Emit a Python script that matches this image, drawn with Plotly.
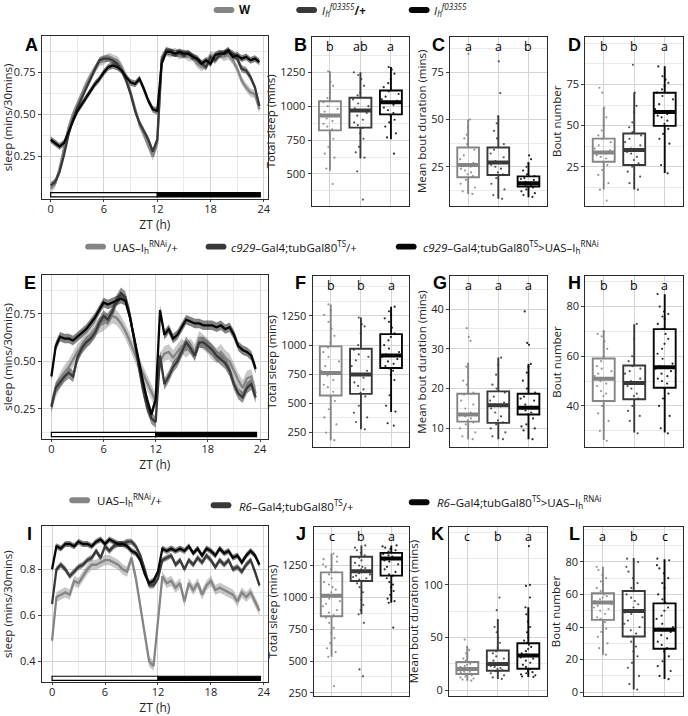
import plotly.graph_objects as go

W, H = 688, 716

# ---------------- data ----------------
ZT = [0.0, 0.5, 1.0, 1.5, 2.0, 2.5, 3.0, 3.5, 4.0, 4.5, 5.0, 5.5, 6.0, 6.5, 7.0, 7.5,
      8.0, 8.5, 9.0, 9.5, 10.0, 10.5, 11.0, 11.5, 12.0, 12.5, 13.0, 13.5, 14.0, 14.5, 15.0, 15.5,
      16.0, 16.5, 17.0, 17.5, 18.0, 18.5, 19.0, 19.5, 20.0, 20.5, 21.0, 21.5, 22.0, 22.5, 23.0, 23.5]
LD_LIGHT = [0, 12]
LD_DARK = [12, 23.6]

# Panel A
A_w = [0.06, 0.09, 0.18, 0.30, 0.42, 0.50, 0.56, 0.63, 0.68, 0.73, 0.77, 0.81, 0.82, 0.84, 0.83, 0.82,
       0.78, 0.72, 0.63, 0.54, 0.44, 0.38, 0.32, 0.25, 0.33, 0.84, 0.87, 0.86, 0.87, 0.85, 0.86, 0.84,
       0.84, 0.80, 0.78, 0.80, 0.85, 0.84, 0.86, 0.84, 0.85, 0.82, 0.77, 0.70, 0.66, 0.63, 0.62, 0.53]
A_het = [0.08, 0.10, 0.16, 0.26, 0.38, 0.47, 0.54, 0.60, 0.66, 0.71, 0.77, 0.82, 0.83, 0.83, 0.82, 0.80,
         0.76, 0.70, 0.62, 0.52, 0.45, 0.40, 0.35, 0.28, 0.35, 0.82, 0.88, 0.87, 0.86, 0.86, 0.85, 0.86,
         0.84, 0.82, 0.80, 0.78, 0.84, 0.82, 0.85, 0.86, 0.87, 0.86, 0.83, 0.77, 0.76, 0.72, 0.66, 0.55]
A_ih = [0.35, 0.33, 0.31, 0.33, 0.40, 0.46, 0.52, 0.56, 0.60, 0.64, 0.68, 0.71, 0.75, 0.78, 0.79, 0.78,
        0.76, 0.72, 0.69, 0.68, 0.71, 0.65, 0.58, 0.53, 0.52, 0.80, 0.87, 0.87, 0.86, 0.87, 0.86, 0.86,
        0.84, 0.83, 0.80, 0.82, 0.80, 0.85, 0.86, 0.86, 0.88, 0.84, 0.85, 0.83, 0.84, 0.82, 0.83, 0.81]
A_sem = [0.025, 0.02, 0.02]

# Panel E
E_uas = [0.27, 0.35, 0.40, 0.44, 0.47, 0.51, 0.55, 0.58, 0.61, 0.64, 0.67, 0.69, 0.70, 0.72, 0.74, 0.73,
         0.70, 0.66, 0.61, 0.55, 0.49, 0.44, 0.39, 0.34, 0.29, 0.50, 0.54, 0.55, 0.52, 0.55, 0.58, 0.56,
         0.58, 0.55, 0.62, 0.60, 0.58, 0.55, 0.53, 0.55, 0.52, 0.50, 0.45, 0.40, 0.36, 0.41, 0.42, 0.33]
E_het = [0.26, 0.36, 0.39, 0.42, 0.44, 0.42, 0.52, 0.57, 0.60, 0.62, 0.65, 0.70, 0.74, 0.72, 0.76, 0.82,
         0.86, 0.84, 0.75, 0.62, 0.48, 0.36, 0.26, 0.20, 0.18, 0.53, 0.38, 0.42, 0.47, 0.50, 0.55, 0.60,
         0.57, 0.53, 0.60, 0.60, 0.58, 0.56, 0.53, 0.51, 0.49, 0.45, 0.38, 0.33, 0.31, 0.36, 0.38, 0.31]
E_exp = [0.42, 0.58, 0.63, 0.62, 0.62, 0.61, 0.63, 0.65, 0.67, 0.70, 0.73, 0.77, 0.81, 0.80, 0.81, 0.82,
         0.83, 0.82, 0.74, 0.63, 0.51, 0.40, 0.30, 0.22, 0.30, 0.77, 0.64, 0.67, 0.62, 0.64, 0.68, 0.72,
         0.71, 0.70, 0.70, 0.69, 0.69, 0.69, 0.68, 0.69, 0.67, 0.68, 0.64, 0.58, 0.56, 0.55, 0.53, 0.46]
E_sem = [0.04, 0.03, 0.025]

# Panel I
I_uas = [0.49, 0.68, 0.69, 0.70, 0.69, 0.75, 0.74, 0.77, 0.80, 0.82, 0.82, 0.83, 0.84, 0.84, 0.83, 0.82,
         0.80, 0.79, 0.85, 0.76, 0.64, 0.52, 0.40, 0.38, 0.56, 0.77, 0.74, 0.75, 0.72, 0.74, 0.66, 0.74,
         0.71, 0.74, 0.69, 0.73, 0.75, 0.71, 0.72, 0.71, 0.70, 0.69, 0.66, 0.70, 0.68, 0.70, 0.66, 0.62]
I_het = [0.65, 0.80, 0.82, 0.80, 0.77, 0.79, 0.81, 0.82, 0.84, 0.85, 0.88, 0.85, 0.90, 0.88, 0.90, 0.91,
         0.91, 0.92, 0.92, 0.90, 0.86, 0.80, 0.73, 0.73, 0.76, 0.84, 0.85, 0.86, 0.82, 0.84, 0.80, 0.84,
         0.82, 0.85, 0.83, 0.86, 0.84, 0.81, 0.84, 0.82, 0.84, 0.80, 0.81, 0.79, 0.82, 0.84, 0.79, 0.73]
I_exp = [0.80, 0.90, 0.89, 0.91, 0.91, 0.90, 0.92, 0.91, 0.91, 0.90, 0.92, 0.93, 0.91, 0.93, 0.92, 0.91,
         0.91, 0.90, 0.88, 0.87, 0.84, 0.78, 0.74, 0.75, 0.79, 0.89, 0.88, 0.89, 0.88, 0.89, 0.88, 0.90,
         0.87, 0.89, 0.86, 0.89, 0.88, 0.86, 0.89, 0.87, 0.88, 0.85, 0.86, 0.83, 0.86, 0.88, 0.86, 0.82]
I_sem = [0.022, 0.013, 0.013]

# Box panels: [group1, group2, group3]
B_q1 = [822, 842, 940]; B_med = [932, 969, 1030]; B_q3 = [1037, 1062, 1116]
B_lo = [524, 615, 756]; B_hi = [1257, 1250, 1289]
B_pts = [[1257, 1180, 1150, 1100, 1060, 1030, 1000, 980, 960, 940, 925, 910, 890, 870, 850, 830, 800, 760, 700, 650, 620, 540, 426],
         [1250, 1230, 1200, 1150, 1100, 1080, 1050, 1020, 1000, 985, 970, 950, 930, 900, 880, 860, 840, 800, 760, 700, 660, 620, 520, 311],
         [1289, 1270, 1240, 1200, 1170, 1140, 1110, 1090, 1070, 1050, 1040, 1030, 1010, 990, 970, 950, 930, 900, 880, 850, 800, 770, 650]]
B_sig = ["b", "ab", "a"]

C_q1 = [19.4, 20.6, 14.5]; C_med = [25.9, 27.3, 16.2]; C_q3 = [35.2, 35.2, 19.9]
C_lo = [10.6, 8.0, 8.9]; C_hi = [50.0, 51.8, 27.0]
C_pts = [[84.8, 50, 46, 42, 40, 37, 34, 31, 29, 27, 26, 25, 24, 23, 22, 21, 20, 18, 16, 14, 12, 10.6],
         [80.8, 64, 51.8, 48, 44, 40, 37, 34, 32, 30, 28, 27, 26, 25, 24, 22, 21, 19, 16, 13, 10, 8],
         [31, 29, 27, 25, 23, 21, 20, 19, 18.5, 18, 17, 16.5, 16, 15.5, 15, 14.5, 14, 13, 12, 11, 10, 9]]
C_sig = ["a", "a", "b"]

D_q1 = [28.0, 26.0, 49.8]; D_med = [33.7, 35.1, 58.3]; D_q3 = [42.1, 45.2, 70.0]
D_lo = [11.1, 11.1, 21.2]; D_hi = [60.9, 70.0, 86.1]
D_pts = [[73, 70, 61, 55, 50, 47, 44, 42, 40, 38, 36, 35, 34, 33, 32, 31, 30, 28, 26, 23, 20, 15, 11, 4.4],
         [87, 70, 62, 58, 52, 49, 46, 44, 42, 40, 38, 36, 35, 34, 33, 31, 29, 27, 25, 22, 19, 15, 11],
         [86, 80, 78, 76, 74, 72, 70, 68, 66, 63, 60, 59, 58, 57, 56, 55, 53, 51, 48, 45, 42, 39, 26, 21]]
D_sig = ["b", "b", "a"]

F_q1 = [568, 582, 804]; F_med = [761, 747, 912]; F_q3 = [989, 969, 1094]
F_lo = [185, 278, 426]; F_hi = [1349, 1236, 1330]
F_pts = [[1349, 1300, 1260, 1200, 1140, 1080, 1020, 980, 940, 900, 860, 820, 780, 760, 740, 700, 660, 640, 600, 560, 520, 450, 380, 320, 250, 185],
         [1236, 1180, 1160, 1100, 1000, 960, 920, 900, 870, 820, 780, 750, 720, 680, 650, 620, 590, 560, 480, 420, 380, 340, 278],
         [1330, 1290, 1260, 1230, 1200, 1150, 1100, 1070, 1040, 1000, 970, 940, 920, 900, 880, 860, 840, 820, 800, 780, 740, 700, 570, 480, 430, 330, 310]]
F_sig = ["b", "b", "a"]

G_q1 = [11.7, 11.4, 13.5]; G_med = [13.5, 15.8, 15.2]; G_q3 = [18.7, 19.3, 18.7]
G_lo = [7.25, 7.25, 7.25]; G_hi = [26.25, 27.8, 26.2]
G_pts = [[35.2, 33, 32, 26.3, 25.5, 22, 21, 19, 18.5, 17, 16, 15, 14, 13.5, 13, 12.5, 12, 11.5, 11, 10, 9, 8, 7.3],
         [27.8, 26, 23.5, 21, 20, 19, 18, 17, 16.5, 16, 15.5, 15, 14, 13, 12, 11.5, 11, 10, 9, 8, 7.3],
         [39.4, 31.5, 31, 26.2, 25.5, 24, 22, 20, 19, 18, 17.5, 17, 16, 15.5, 15, 14.5, 14, 13.5, 12.5, 11, 10.5, 10, 9.5, 7.3]]
G_sig = ["a", "a", "a"]

H_q1 = [42.0, 42.7, 47.3]; H_med = [50.9, 49.2, 55.6]; H_q3 = [59.1, 56.3, 70.9]
H_lo = [26.3, 29.3, 29.3]; H_hi = [70.4, 72.9, 84.9]
H_pts = [[70, 69, 68, 66, 63, 60, 58, 56, 55, 54, 53, 52, 51, 50, 49, 48, 46, 45, 44, 42, 40, 37, 34, 30, 26],
         [73, 67, 60, 58, 56, 55, 54, 53, 51, 50, 49, 48, 47, 45, 44, 43, 40, 38, 36, 34, 29],
         [85, 80, 78, 77, 76, 75, 73, 71, 69, 67, 65, 63, 61, 59, 57, 56, 55, 54, 53, 52, 51, 50, 49, 47, 45, 43, 40, 36, 31, 29]]
H_sig = ["b", "b", "a"]

J_q1 = [852, 1128, 1171]; J_med = [1013, 1204, 1306]; J_q3 = [1196, 1319, 1349]
J_lo = [533, 867, 957]; J_hi = [1344, 1408, 1408]
J_pts = [[1344, 1320, 1300, 1280, 1260, 1240, 1220, 1200, 1180, 1150, 1120, 1100, 1080, 1060, 1040, 1020, 1010, 990, 970, 950, 930, 900, 880, 860, 840, 800, 760, 720, 680, 640, 600, 570, 533, 304],
         [1408, 1390, 1370, 1350, 1330, 1310, 1290, 1270, 1250, 1240, 1230, 1220, 1210, 1200, 1190, 1180, 1170, 1160, 1150, 1140, 1130, 1110, 1080, 1040, 980, 940, 900, 867, 800, 434, 380],
         [1408, 1400, 1390, 1380, 1370, 1360, 1350, 1340, 1330, 1320, 1310, 1305, 1300, 1290, 1280, 1260, 1240, 1220, 1200, 1180, 1170, 1150, 1120, 1100, 1080, 1050, 1020, 990, 970, 957, 763]]
J_sig = ["c", "b", "a"]

K_q1 = [15.3, 18.4, 20.3]; K_med = [20.0, 24.8, 33.0]; K_q3 = [26.7, 37.7, 44.6]
K_lo = [9.0, 10.6, 12.5]; K_hi = [40.9, 66.7, 78.7]
K_pts = [[48, 41, 38, 35, 32, 30, 28, 26.5, 25, 24, 23, 22, 21, 20.5, 20, 19.5, 19, 18, 17.5, 17, 16, 15.5, 15, 14, 13, 12, 11, 10, 9],
         [88, 76, 66.7, 60, 55, 50, 45, 40, 37, 35, 32, 30, 28, 26, 25, 24.5, 24, 23, 22, 21, 20, 19, 18, 16, 14, 12, 10.6],
         [136.8, 100, 99, 88, 78.7, 72, 65, 60, 55, 50, 47, 45, 43, 41, 39, 37, 35, 34, 33, 32, 31, 30, 28, 26, 24, 22, 20, 18, 17, 16, 15, 14, 13, 12.5]]
K_sig = ["c", "b", "a"]

L_q1 = [44.4, 34.2, 26.7]; L_med = [55.0, 49.9, 38.3]; L_q3 = [60.7, 62.1, 54.5]
L_lo = [23.0, 1.6, 8.1]; L_hi = [77.0, 82.4, 81.6]
L_pts = [[77, 75, 72, 70, 68, 66, 64, 62, 60, 59, 58, 57, 56, 55, 54, 53, 52, 51, 50, 48, 46, 45, 43, 41, 39, 37, 34, 30, 27, 23],
         [82, 80, 77, 74, 70, 67, 64, 62, 60, 58, 56, 54, 52, 50, 49, 48, 46, 44, 42, 40, 38, 36, 34, 31, 28, 25, 22, 18, 15, 10, 5, 1.6],
         [82, 81, 78, 76, 73, 70, 67, 64, 60, 57, 55, 52, 50, 47, 45, 42, 40, 39, 38, 37, 35, 33, 31, 29, 27, 25, 22, 19, 16, 13, 10, 8]]
L_sig = ["a", "b", "c"]

LEG1 = ["<b>W</b>", "<i>I</i><sub><i>h</i></sub><sup><i>f03355</i></sup><b>/+</b>",
        "<i>I</i><sub><i>h</i></sub><sup><i>f03355</i></sup>"]
LEG2 = ["UAS–I<sub>h</sub><sup>RNAi</sup>/+", "<i>c929</i>–Gal4;tubGal80<sup>TS</sup>/+",
        "<i>c929</i>–Gal4;tubGal80<sup>TS</sup>&gt;UAS–I<sub>h</sub><sup>RNAi</sup>"]
LEG3 = ["UAS–I<sub>h</sub><sup>RNAi</sup>/+", "<i>R6</i>–Gal4;tubGal80<sup>TS</sup>/+",
        "<i>R6</i>–Gal4;tubGal80<sup>TS</sup>&gt;UAS–I<sub>h</sub><sup>RNAi</sup>"]

# ---------------- style ----------------
COLS = ["#858585", "#393939", "#060606"]
RIBS = ["rgba(133,133,133,0.45)", "rgba(57,57,57,0.55)", "rgba(6,6,6,0.5)"]
FONT = "Open Sans"

panels = {
    1: ((42, 269), (36, 200)),
    2: ((313, 411), (37, 207)),
    3: ((452, 549), (37, 207)),
    4: ((588, 686), (37, 207)),
    5: ((42, 269), (277, 441)),
    6: ((314, 411), (278, 450)),
    7: ((452, 549), (278, 450)),
    8: ((588, 686), (278, 450)),
    9: ((42, 269), (529, 686)),
    10: ((315, 411), (530, 700)),
    11: ((451, 549), (530, 700)),
    12: ((587, 686), (530, 700)),
}


def refs(n):
    s = "" if n == 1 else str(n)
    return "x" + s, "y" + s, "xaxis" + s, "yaxis" + s


fig = go.Figure()
layout = dict(width=W, height=H, margin=dict(l=0, r=0, t=0, b=0),
              paper_bgcolor="white", plot_bgcolor="white", showlegend=False,
              font=dict(family=FONT, size=11, color="#222"), boxmode="overlay",
              hovermode=False)
shapes = []
annotations = []

axis_common = dict(showline=True, mirror=True, linecolor="#2b2b2b", linewidth=1.2,
                   showgrid=True, gridcolor="#d4d4d4", gridwidth=1.2, zeroline=False,
                   tickfont=dict(size=11, color="#222"), ticks="outside", ticklen=3,
                   tickcolor="#444", tickwidth=1, showspikes=False)


def minor(vals):
    return dict(tickvals=vals, showgrid=True, gridcolor="#ebebeb", gridwidth=0.9, ticks="")


# ---------- time series panels ----------
ts_panels = [
    (1, [A_w, A_het, A_ih], A_sem, [-1.0, 24.45], [0.0, 0.965], [0.25, 0.5, 0.75], ["0.25", "0.50", "0.75"],
     [0.125, 0.375, 0.625, 0.875], 5),
    (5, [E_uas, E_het, E_exp], E_sem, [-1.1, 24.9], [0.093, 0.953], [0.25, 0.5, 0.75], ["0.25", "0.50", "0.75"],
     [0.125, 0.375, 0.625, 0.875], 5),
    (9, [I_uas, I_het, I_exp], I_sem, [-1.16, 24.45], [0.31, 0.988], [0.4, 0.6, 0.8], ["0.4", "0.6", "0.8"],
     [0.5, 0.7, 0.9], 7),
]
for n, series, sems, xr, yr, ytv, ytt, ymin, tso in ts_panels:
    xr_, yr_, xa, ya = refs(n)
    (l, r), (t, b) = panels[n]
    layout[xa] = dict(axis_common, domain=[l / W, r / W], anchor=yr_, range=xr,
                      tickvals=[0, 6, 12, 18, 24], minor=minor([3, 9, 15, 21]), ticklen=2,
                      ticklabelstandoff=-2,
                      title=dict(text="ZT (h)", font=dict(size=12, color="#222"), standoff=tso))
    layout[ya] = dict(axis_common, domain=[1 - b / H, 1 - t / H], anchor=xr_, range=yr,
                      tickvals=ytv, ticktext=ytt, minor=minor(ymin),
                      title=dict(text="sleep (mins/30mins)", font=dict(size=11.5, color="#222"), standoff=6))
    for k, (vals, sem) in enumerate(zip(series, sems)):
        up = [v + sem for v in vals]
        lo = [v - sem for v in vals]
        fig.add_trace(go.Scatter(x=ZT + ZT[::-1], y=up + lo[::-1], fill="toself", fillcolor=RIBS[k],
                                 line=dict(width=0), mode="lines", hoverinfo="skip",
                                 xaxis=xr_, yaxis=yr_))
    for k, vals in enumerate(series):
        fig.add_trace(go.Scatter(x=ZT, y=vals, mode="lines", line=dict(color=COLS[k], width=2.3),
                                 hoverinfo="skip", xaxis=xr_, yaxis=yr_))
    # LD bar
    shapes.append(dict(type="rect", xref=xr_, yref=yr_ + " domain", x0=LD_LIGHT[0], x1=LD_LIGHT[1],
                       y0=0.012, y1=0.038, fillcolor="white", line=dict(color="black", width=1.2)))
    shapes.append(dict(type="rect", xref=xr_, yref=yr_ + " domain", x0=LD_DARK[0], x1=LD_DARK[1],
                       y0=0.012, y1=0.038, fillcolor="black", line=dict(color="black", width=1.2)))

# ---------- box panels ----------
box_panels = [
    (2, B_q1, B_med, B_q3, B_lo, B_hi, B_pts, B_sig, [265, 1512], [500, 750, 1000, 1250],
     [375, 625, 875, 1125, 1375], "Total sleep (mins)"),
    (3, C_q1, C_med, C_q3, C_lo, C_hi, C_pts, C_sig, [4.3, 93.8], [25, 50, 75],
     [12.5, 37.5, 62.5, 87.5], "Mean bout duration (mins)"),
    (4, D_q1, D_med, D_q3, D_lo, D_hi, D_pts, D_sig, [1.2, 104], [25, 50, 75],
     [12.5, 37.5, 62.5, 87.5, 100], "Bout number"),
    (6, F_q1, F_med, F_q3, F_lo, F_hi, F_pts, F_sig, [122, 1589], [250, 500, 750, 1000, 1250],
     [375, 625, 875, 1125, 1375, 1500], "Total sleep (mins)"),
    (7, G_q1, G_med, G_q3, G_lo, G_hi, G_pts, G_sig, [5.2, 48.2], [10, 20, 30, 40],
     [15, 25, 35, 45], "Mean bout duration (mins)"),
    (8, H_q1, H_med, H_q3, H_lo, H_hi, H_pts, H_sig, [23.3, 92.1], [40, 60, 80],
     [30, 50, 70, 90], "Bout number"),
    (10, J_q1, J_med, J_q3, J_lo, J_hi, J_pts, J_sig, [225, 1552], [250, 500, 750, 1000, 1250],
     [375, 625, 875, 1125, 1375, 1500], "Total sleep (mins)"),
    (11, K_q1, K_med, K_q3, K_lo, K_hi, K_pts, K_sig, [-5.7, 155], [0, 50, 100],
     [25, 75, 125, 150], "Mean bout duration (mins)"),
    (12, L_q1, L_med, L_q3, L_lo, L_hi, L_pts, L_sig, [-2.4, 101.4], [0, 20, 40, 60, 80],
     [10, 30, 50, 70, 90, 100], "Bout number"),
]
BW = 0.72
for n, q1, med, q3, lo, hi, pts, sig, yr, ytv, ymin, ytitle in box_panels:
    xr_, yr_, xa, ya = refs(n)
    (l, r), (t, b) = panels[n]
    layout[xa] = dict(axis_common, domain=[l / W, r / W], anchor=yr_, range=[-0.6, 2.6],
                      tickvals=[0, 1, 2], showticklabels=False, ticks="")
    layout[ya] = dict(axis_common, domain=[1 - b / H, 1 - t / H], anchor=xr_, range=yr,
                      tickvals=ytv, minor=minor(ymin),
                      title=dict(text=ytitle, font=dict(size=11.5, color="#222"), standoff=2))
    for i in range(3):
        fig.add_trace(go.Box(x=[i], q1=[q1[i]], median=[med[i]], q3=[q3[i]],
                             lowerfence=[lo[i]], upperfence=[hi[i]], width=BW,
                             line=dict(color=COLS[i], width=1.9), fillcolor="rgba(255,255,255,0)",
                             whiskerwidth=0, boxpoints=False, hoverinfo="skip",
                             xaxis=xr_, yaxis=yr_))
        fig.add_trace(go.Scatter(x=[i - BW / 2, i + BW / 2], y=[med[i], med[i]], mode="lines",
                                 line=dict(color=COLS[i], width=4), hoverinfo="skip",
                                 xaxis=xr_, yaxis=yr_))
    for i in range(3):
        fig.add_trace(go.Box(x=[i] * len(pts[i]), y=pts[i], boxpoints="all", jitter=0.9, pointpos=0,
                             width=BW, line=dict(width=0, color="rgba(0,0,0,0)"),
                             fillcolor="rgba(0,0,0,0)", whiskerwidth=0,
                             marker=dict(color=COLS[i], size=2.2, opacity=0.85),
                             hoverinfo="skip", xaxis=xr_, yaxis=yr_))
    for i in range(3):
        annotations.append(dict(x=i, y=0.945, xref=xr_, yref=yr_ + " domain", text=sig[i],
                                showarrow=False, font=dict(size=12.5, color="black"),
                                xanchor="center", yanchor="middle"))

# ---------- panel labels ----------
plabels = [("A", 32, 45), ("B", 302, 45), ("C", 440, 45), ("D", 577, 45),
           ("E", 30, 285), ("F", 302, 285), ("G", 442, 285), ("H", 577, 285),
           ("I", 30, 537), ("J", 302, 537), ("K", 439, 537), ("L", 577, 537)]
for txt, px, py in plabels:
    annotations.append(dict(x=px / W, y=1 - py / H, xref="paper", yref="paper", text="<b>" + txt + "</b>",
                            showarrow=False, xanchor="center", yanchor="middle",
                            font=dict(family="Liberation Sans", size=18, color="black")))


# ---------- legends ----------
def pill(cx, cy, color, w=21, h=6):
    r = h / 2
    x0, x1 = cx - w / 2 + r, cx + w / 2 - r

    def X(p):
        return p / W

    def Y(p):
        return 1 - p / H

    path = (f"M {X(x0)},{Y(cy - r)} L {X(x1)},{Y(cy - r)} "
            f"C {X(x1 + r * 1.33)},{Y(cy - r)} {X(x1 + r * 1.33)},{Y(cy + r)} {X(x1)},{Y(cy + r)} "
            f"L {X(x0)},{Y(cy + r)} "
            f"C {X(x0 - r * 1.33)},{Y(cy + r)} {X(x0 - r * 1.33)},{Y(cy - r)} {X(x0)},{Y(cy - r)} Z")
    return dict(type="path", xref="paper", yref="paper", path=path, fillcolor=color,
                line=dict(width=0))


legend_rows = [
    (LEG1, [(225, 10, 238), (308, 10, 321), (421, 10, 434)]),
    (LEG2, [(96, 248, 111), (217, 248, 230), (408, 248, 423)]),
    (LEG3, [(80, 503, 95), (222, 508, 238), (421, 505, 437)]),
]
for texts, pos in legend_rows:
    for k, (txt, (cx, cy, tx)) in enumerate(zip(texts, pos)):
        shapes.append(pill(cx, cy, COLS[k]))
        annotations.append(dict(x=tx / W, y=1 - cy / H, xref="paper", yref="paper", text=txt,
                                showarrow=False, xanchor="left", yanchor="middle",
                                font=dict(size=11.5, color="#111")))

layout["shapes"] = shapes
layout["annotations"] = annotations
fig.update_layout(**layout)
fig.update_traces(showlegend=False)
fig.write_html("out.html", config={"displayModeBar": False},
               post_script="document.body.style.margin='0';document.body.style.padding='0';"
                           "document.body.style.overflow='hidden';")
